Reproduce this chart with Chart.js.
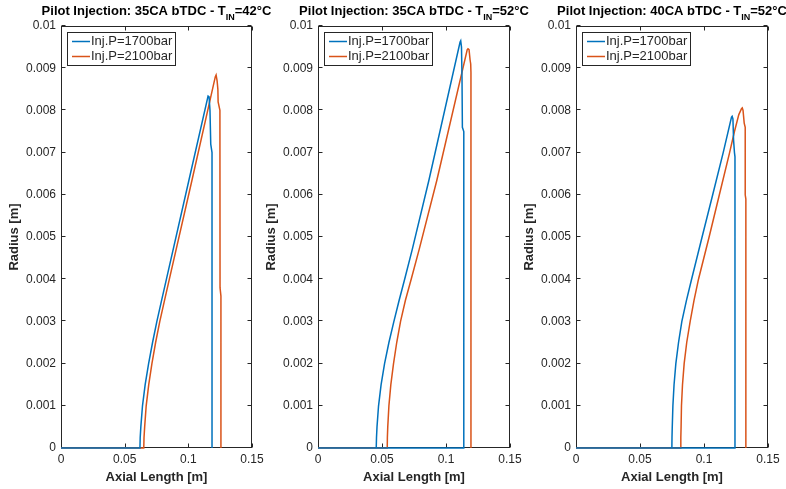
<!DOCTYPE html>
<html>
<head>
<meta charset="utf-8">
<title>Pilot Injection - spray radius</title>
<script src="https://cdn.jsdelivr.net/npm/chart.js@4.4.1/dist/chart.umd.min.js"></script>
<style>
  html, body { margin: 0; padding: 0; background: #fff; }
  #wrap { position: relative; width: 786px; height: 489px; }
  #wrap canvas { position: absolute; left: 0; top: 0; }
</style>
</head>
<body>
<div id="wrap">
  <canvas id="plot1" width="786" height="489"></canvas>
  <canvas id="plot2" width="786" height="489"></canvas>
  <canvas id="plot3" width="786" height="489"></canvas>
</div>
<script>
const seriesLabels = ['Inj.P=1700bar', 'Inj.P=2100bar'];
const xTickValues = [0, 0.05, 0.1, 0.15];
const xTickLabels = ['0', '0.05', '0.1', '0.15'];
const yTickValues = [0, 0.001, 0.002, 0.003, 0.004, 0.005, 0.006, 0.007, 0.008, 0.009, 0.01];
const yTickLabels = ['0', '0.001', '0.002', '0.003', '0.004', '0.005', '0.006', '0.007', '0.008', '0.009', '0.01'];
const titleHeads = ['Pilot Injection: 35CA bTDC - T', 'Pilot Injection: 35CA bTDC - T', 'Pilot Injection: 40CA bTDC - T'];
const titleSubs = ['IN', 'IN', 'IN'];
const titleTails = ['=42°C', '=52°C', '=52°C'];

// 35CA bTDC, T_IN=42°C
const p1BlueX = [0, 0.0620, 0.0622, 0.0627, 0.0640, 0.0661, 0.0688, 0.0719, 0.0753, 0.0790, 0.0828, 0.1005, 0.1155, 0.1163, 0.1170, 0.1176, 0.1186, 0.1186];
const p1BlueY = [0, 0, 0.00025, 0.0005, 0.0010, 0.0015, 0.0020, 0.0025, 0.0030, 0.0035, 0.0040, 0.00635, 0.00834, 0.00832, 0.0080, 0.0072, 0.0070, 0];
const p1RedX = [0, 0.0650, 0.0652, 0.0657, 0.0669, 0.0689, 0.0714, 0.0743, 0.0776, 0.0813, 0.0851, 0.1029, 0.1212, 0.1218, 0.1226, 0.1232, 0.1234, 0.1248, 0.1249, 0.1256, 0.1256];
const p1RedY = [0, 0, 0.00025, 0.0005, 0.0010, 0.0015, 0.0020, 0.0025, 0.0030, 0.0035, 0.0040, 0.00635, 0.00880, 0.00884, 0.0087, 0.0085, 0.0082, 0.0080, 0.0038, 0.0036, 0];

// 35CA bTDC, T_IN=52°C
const p2BlueX = [0, 0.0455, 0.0457, 0.0461, 0.0473, 0.0493, 0.0520, 0.0554, 0.0593, 0.0634, 0.0677, 0.0736, 0.0866, 0.1110, 0.1115, 0.1121, 0.1125, 0.1128, 0.1139, 0.1139, 0.0455];
const p2BlueY = [0, 0, 0.00025, 0.0005, 0.0010, 0.0015, 0.0020, 0.0025, 0.0030, 0.0035, 0.0040, 0.0047, 0.00634, 0.00962, 0.00965, 0.0095, 0.0088, 0.0076, 0.0075, 0, 0];
const p2RedX = [0, 0.0541, 0.0542, 0.0545, 0.0554, 0.0569, 0.0590, 0.0615, 0.0645, 0.0683, 0.0728, 0.0790, 0.0928, 0.1166, 0.1172, 0.1180, 0.1188, 0.1193, 0.1195, 0.1195];
const p2RedY = [0, 0, 0.00025, 0.0005, 0.0010, 0.0015, 0.0020, 0.0025, 0.0030, 0.0035, 0.0040, 0.0047, 0.00634, 0.00944, 0.00946, 0.00944, 0.0092, 0.0091, 0.0089, 0];

// 40CA bTDC, T_IN=52°C
const p3BlueX = [0, 0.0749, 0.0750, 0.0752, 0.0757, 0.0766, 0.0780, 0.0801, 0.0827, 0.0863, 0.0903, 0.0985, 0.1068, 0.1150, 0.1215, 0.1220, 0.1226, 0.1231, 0.1238, 0.1242, 0.1242, 0.0749];
const p3BlueY = [0, 0, 0.00025, 0.0005, 0.0010, 0.0015, 0.0020, 0.0025, 0.0030, 0.0035, 0.0040, 0.0050, 0.0060, 0.0070, 0.00784, 0.00786, 0.0078, 0.0073, 0.0070, 0.0069, 0, 0];
const p3RedX = [0, 0.0819, 0.0819, 0.0821, 0.0824, 0.0832, 0.0845, 0.0865, 0.0892, 0.0922, 0.0957, 0.1040, 0.1120, 0.1200, 0.1238, 0.1272, 0.1293, 0.1299, 0.1305, 0.1314, 0.1322, 0.1322, 0.1327, 0.1327];
const p3RedY = [0, 0, 0.00025, 0.0005, 0.0010, 0.0015, 0.0020, 0.0025, 0.0030, 0.0035, 0.0040, 0.0050, 0.0060, 0.0070, 0.0075, 0.0079, 0.00804, 0.00806, 0.0080, 0.0077, 0.0076, 0.0060, 0.0059, 0];

const FONT = '"Liberation Sans", Arial, Helvetica, sans-serif';
const axisColor = '#262626';
const blue = '#0072BD';
const orange = '#D95319';

// box round the plot + inward ticks on all four sides (drawn under the lines)
const boxPlugin = {
  id: 'boxPlugin',
  beforeDatasetsDraw(chart) {
    const { ctx, chartArea: a, scales: { x, y } } = chart;
    const tick = 4;
    const l = Math.round(a.left) + 0.5, r = Math.round(a.right) - 0.5;
    const t = Math.round(a.top) + 0.5, b = Math.round(a.bottom) - 0.5;
    ctx.save();
    ctx.strokeStyle = axisColor;
    ctx.lineWidth = 1;
    ctx.strokeRect(l, t, r - l, b - t);
    ctx.beginPath();
    xTickValues.forEach((v) => {
      const px = Math.round(x.getPixelForValue(v)) + 0.5;
      ctx.moveTo(px, b); ctx.lineTo(px, b - tick);
      ctx.moveTo(px, t); ctx.lineTo(px, t + tick);
    });
    yTickValues.forEach((v) => {
      const py = Math.round(y.getPixelForValue(v)) - 0.5;
      ctx.moveTo(l, py); ctx.lineTo(l + tick, py);
      ctx.moveTo(r, py); ctx.lineTo(r - tick, py);
    });
    ctx.stroke();
    ctx.restore();
  }
};

// boxed legend in the top-left corner, like matlab's
const legendPlugin = {
  id: 'boxLegend',
  afterDatasetsDraw(chart) {
    const { ctx, chartArea: a } = chart;
    const left = Math.round(a.left) + 6, top = 32, w = 108, h = 33;
    ctx.save();
    ctx.fillStyle = '#fff';
    ctx.fillRect(left, top, w, h);
    ctx.strokeStyle = axisColor;
    ctx.lineWidth = 1;
    ctx.strokeRect(left + 0.5, top + 0.5, w, h);
    ctx.font = '13px ' + FONT;
    ctx.textBaseline = 'middle';
    ctx.textAlign = 'left';
    chart.data.datasets.forEach((ds, i) => {
      const yy = top + 9.5 + i * 15;
      ctx.strokeStyle = ds.borderColor;
      ctx.lineWidth = 1.5;
      ctx.beginPath();
      ctx.moveTo(left + 5, yy);
      ctx.lineTo(left + 23, yy);
      ctx.stroke();
      ctx.fillStyle = axisColor;
      ctx.fillText(ds.label, left + 24, yy);
    });
    ctx.restore();
  }
};

// title with the IN subscript
const titlePlugin = {
  id: 'subTitle',
  afterDraw(chart) {
    const { ctx, chartArea: a } = chart;
    const idx = chart.options.plotIndex;
    const cx = (a.left + a.right) / 2;
    ctx.save();
    ctx.fillStyle = '#000';
    ctx.textBaseline = 'alphabetic';
    ctx.textAlign = 'left';
    ctx.font = 'bold 13px ' + FONT;
    const w1 = ctx.measureText(titleHeads[idx]).width;
    const w3 = ctx.measureText(titleTails[idx]).width;
    ctx.font = 'bold 9px ' + FONT;
    const w2 = ctx.measureText(titleSubs[idx]).width;
    const x0 = cx - (w1 + w2 + w3) / 2;
    ctx.font = 'bold 13px ' + FONT;
    ctx.fillText(titleHeads[idx], x0, 15);
    ctx.font = 'bold 9px ' + FONT;
    ctx.fillText(titleSubs[idx], x0 + w1, 20);
    ctx.font = 'bold 13px ' + FONT;
    ctx.fillText(titleTails[idx], x0 + w1 + w2, 15);
    ctx.restore();
  }
};

function toPoints(xs, ys) {
  return xs.map((x, i) => ({ x: x, y: ys[i] }));
}

function makeDataset(label, xs, ys, color) {
  return {
    label: label,
    data: toPoints(xs, ys),
    borderColor: color,
    borderWidth: 1.5,
    // a solid "dash" keeps chart.js off its fast path, which merges the vertical drops
    borderDash: [1000, 0],
    pointRadius: 0,
    tension: 0,
    fill: false,
    clip: 3
  };
}

function renderPlot(canvasId, idx, blueX, blueY, redX, redY, plotLeft, plotRight) {
  const ctx = document.getElementById(canvasId).getContext('2d');
  new Chart(ctx, {
    type: 'line',
    data: {
      datasets: [
        makeDataset(seriesLabels[0], blueX, blueY, blue),
        makeDataset(seriesLabels[1], redX, redY, orange)
      ]
    },
    options: {
      plotIndex: idx,
      responsive: false,
      animation: false,
      devicePixelRatio: 1,
      layout: {
        padding: { left: plotLeft - 56, right: 786 - plotRight, top: 26, bottom: 0 }
      },
      plugins: {
        legend: { display: false },
        tooltip: { enabled: false }
      },
      scales: {
        x: {
          type: 'linear',
          min: 0,
          max: 0.15,
          afterBuildTicks: (s) => { s.ticks = xTickValues.map((v) => ({ value: v })); },
          afterFit: (s) => { s.height = 41; },
          grid: { display: false, drawTicks: false },
          border: { display: false },
          ticks: {
            autoSkip: false,
            maxRotation: 0,
            padding: 4,
            color: axisColor,
            font: { family: FONT, size: 12 },
            callback: (v, i) => xTickLabels[i]
          },
          title: {
            display: true,
            text: 'Axial Length [m]',
            color: axisColor,
            padding: { top: 0, bottom: 4 },
            font: { family: FONT, size: 13, weight: 'bold' }
          }
        },
        y: {
          type: 'linear',
          min: 0,
          max: 0.01,
          afterBuildTicks: (s) => { s.ticks = yTickValues.map((v) => ({ value: v })); },
          afterFit: (s) => { s.width = 56; },
          grid: { display: false, drawTicks: false },
          border: { display: false },
          ticks: {
            autoSkip: false,
            padding: 5,
            color: axisColor,
            font: { family: FONT, size: 12 },
            callback: (v, i) => yTickLabels[i]
          },
          title: {
            display: true,
            text: 'Radius [m]',
            color: axisColor,
            padding: { top: 2, bottom: 0 },
            font: { family: FONT, size: 13, weight: 'bold' }
          }
        }
      }
    },
    plugins: [boxPlugin, legendPlugin, titlePlugin]
  });
}

renderPlot('plot1', 0, p1BlueX, p1BlueY, p1RedX, p1RedY, 61, 252);
renderPlot('plot2', 1, p2BlueX, p2BlueY, p2RedX, p2RedY, 318, 510);
renderPlot('plot3', 2, p3BlueX, p3BlueY, p3RedX, p3RedY, 576, 768);
</script>
</body>
</html>
